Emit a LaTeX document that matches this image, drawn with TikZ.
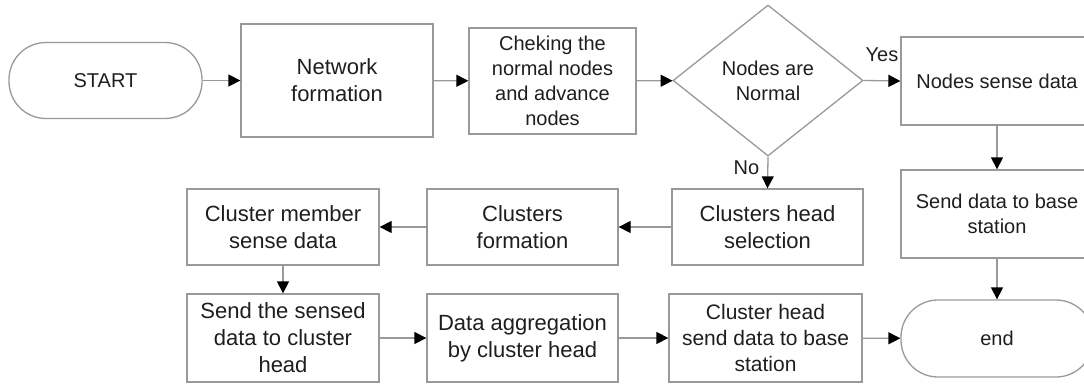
\documentclass[tikz,border=0pt]{standalone}
\usepackage{fontspec}
\setmainfont{Liberation Sans}
\usetikzlibrary{arrows.meta,shapes.geometric}
\definecolor{edgegray}{HTML}{999999}
\definecolor{txt}{HTML}{1E1E1E}
\tikzset{
  fa/.style={font=\fontsize{20}{25}\selectfont},
  fb/.style={font=\fontsize{22}{27}\selectfont},
  box/.style={draw=edgegray, line width=1.3pt, text=txt, align=center, inner sep=0pt, minimum width=#1},
  box/.default=192pt,
  term/.style={draw=edgegray, line width=1.3pt, text=txt, align=center, inner sep=0pt, rounded corners=37pt, minimum width=193pt, minimum height=76pt},
  dia/.style={draw=edgegray, line width=1.3pt, text=txt, align=center, inner sep=0pt, diamond, aspect=1.26, minimum width=190pt, minimum height=151pt},
  conn/.style={draw=edgegray, line width=1.3pt, -{Triangle[length=12pt,width=12pt,color=black]}},
  lbl/.style={text=txt, inner sep=0pt, font=\fontsize{20}{24}\selectfont}
}
\begin{document}
\begin{tikzpicture}[x=1pt,y=-1pt]
\useasboundingbox (0,0) rectangle (1084,385);
% top row
\node[term, fa] (start) at (105.5,80.5) {START};
\node[box=192pt, fb, minimum height=113pt] (net) at (337,80.5) {Network\\formation};
\node[box=167pt, fa, minimum height=106pt] (chk) at (552.5,81) {Cheking the\\normal nodes\\and advance\\nodes};
\node[dia, fa] (dec) at (768,80.5) {Nodes are\\Normal};
\node[box=192pt, fa, minimum height=88pt] (sense) at (997,81) {Nodes sense data};
% right column
\node[box=192pt, fa, minimum height=88pt] (sbs) at (997,214) {Send data to base\\station};
\node[term, fa, minimum width=192pt, minimum height=77pt] (end) at (997,338.5) {end};
% middle row
\node[box=191pt, fb, minimum height=76pt] (chh) at (767.5,227) {Clusters head\\selection};
\node[box=191pt, fb, minimum height=76pt] (cf) at (522.5,227) {Clusters\\formation};
\node[box=192pt, fb, minimum height=76pt] (cm) at (283,227) {Cluster member\\sense data};
% bottom row
\node[box=192pt, fb, minimum height=88pt] (st) at (283,338) {Send the sensed\\data to cluster\\head};
\node[box=191pt, fb, minimum height=88pt] (agg) at (522.5,338) {Data aggregation\\by cluster head};
\node[box=193pt, font=\fontsize{21}{26}\selectfont, minimum height=88pt] (chs) at (765.5,338) {Cluster head\\send data to base\\station};
% connectors
\draw[conn] (start) -- (net);
\draw[conn] (net) -- (chk);
\draw[conn] (chk) -- (dec);
\draw[conn] (dec.east) -- node[lbl, above=18pt, pos=0.5] {Yes} (sense.west);
\draw[conn] (dec.south) -- node[lbl, left=8pt, pos=0.35] {No} (chh.north);
\draw[conn] (chh) -- (cf);
\draw[conn] (cf) -- (cm);
\draw[conn] (cm) -- (st);
\draw[conn] (st) -- (agg);
\draw[conn] (agg) -- (chs);
\draw[conn] (chs) -- (end);
\draw[conn] (sense) -- (sbs);
\draw[conn] (sbs) -- (end);
\end{tikzpicture}
\end{document}
